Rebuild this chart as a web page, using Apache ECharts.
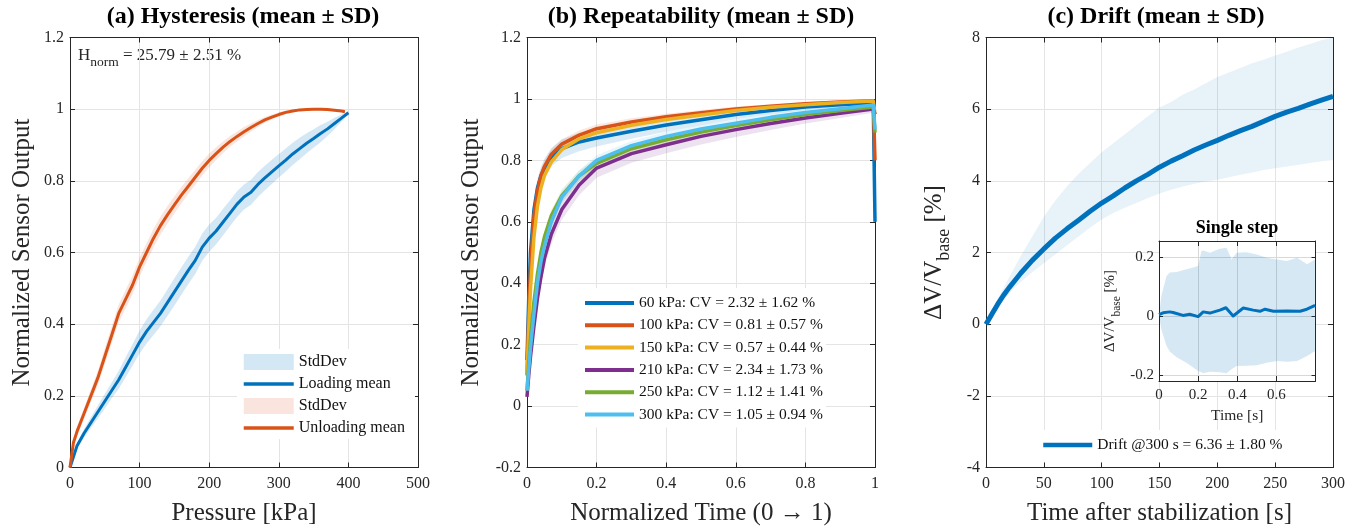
<!DOCTYPE html>
<html><head><meta charset="utf-8">
<script src="https://cdn.jsdelivr.net/npm/echarts@6/dist/echarts.min.js"></script>
<style>html,body{margin:0;padding:0;background:#fff}#c{width:1368px;height:531px}</style>
</head><body><div id="c"></div>
<script>
// ---------------- Panel (a): hysteresis ----------------
const loadP = [0,5,10,20,30,40,50,60,70,80,90,100,110,120,130,140,150,160,170,180,190,200,210,220,230,240,250,260,270,280,290,300,310,320,330,340,350,360,370,380,390,400];
const loadMean = [0,0.03,0.06,0.095,0.125,0.155,0.185,0.215,0.245,0.28,0.315,0.35,0.38,0.405,0.43,0.46,0.49,0.52,0.55,0.578,0.615,0.64,0.66,0.685,0.71,0.735,0.755,0.768,0.79,0.808,0.825,0.842,0.858,0.875,0.89,0.905,0.918,0.932,0.945,0.96,0.975,0.99];
const loadSD = [0,0.005,0.008,0.012,0.015,0.018,0.02,0.022,0.025,0.028,0.03,0.032,0.034,0.035,0.036,0.037,0.038,0.038,0.038,0.038,0.038,0.038,0.037,0.037,0.036,0.036,0.035,0.035,0.035,0.034,0.034,0.033,0.032,0.031,0.03,0.028,0.026,0.024,0.02,0.016,0.01,0.004];
const unloadP = [0,5,10,20,30,40,50,60,70,80,90,100,110,120,130,140,150,160,170,180,190,200,210,220,230,240,250,260,270,280,290,300,310,320,330,340,350,360,370,380,390,395];
const unloadMean = [0,0.07,0.1,0.15,0.2,0.25,0.31,0.37,0.43,0.47,0.51,0.56,0.6,0.64,0.675,0.705,0.733,0.76,0.785,0.81,0.835,0.857,0.876,0.894,0.91,0.924,0.937,0.949,0.96,0.97,0.978,0.985,0.991,0.995,0.998,0.999,1.0,1.0,0.999,0.997,0.995,0.993];
const unloadSD = [0,0.008,0.012,0.015,0.018,0.02,0.022,0.024,0.025,0.026,0.026,0.026,0.026,0.026,0.025,0.025,0.024,0.023,0.022,0.021,0.02,0.019,0.018,0.016,0.015,0.014,0.013,0.011,0.01,0.008,0.007,0.006,0.005,0.004,0.003,0.002,0.001,0,0,0,0,0];
const hystText = ' = 25.79 ± 2.51 %';

// ---------------- Panel (b): repeatability ----------------
const normT = [0,0.005,0.01,0.02,0.03,0.04,0.05,0.07,0.1,0.15,0.2,0.3,0.4,0.5,0.6,0.7,0.8,0.9,0.995,1];
const kPa60  = [0.15,0.35,0.5,0.64,0.71,0.75,0.775,0.81,0.838,0.86,0.873,0.895,0.915,0.932,0.949,0.962,0.974,0.981,0.987,0.6];
const kPa100 = [0.1,0.3,0.45,0.62,0.7,0.75,0.78,0.82,0.853,0.882,0.903,0.925,0.942,0.955,0.967,0.976,0.984,0.99,0.994,0.8];
const kPa150 = [0.1,0.25,0.38,0.55,0.65,0.71,0.75,0.795,0.835,0.87,0.89,0.914,0.933,0.948,0.962,0.973,0.981,0.988,0.993,0.95];
const kPa210 = [0.03,0.1,0.16,0.26,0.35,0.42,0.48,0.56,0.64,0.72,0.775,0.822,0.851,0.878,0.9,0.92,0.938,0.953,0.967,0.95];
const kPa250 = [0.05,0.14,0.22,0.34,0.43,0.5,0.55,0.62,0.685,0.75,0.79,0.838,0.867,0.892,0.913,0.932,0.949,0.962,0.974,0.89];
const kPa300 = [0.05,0.12,0.19,0.3,0.4,0.47,0.52,0.6,0.68,0.75,0.8,0.848,0.878,0.902,0.921,0.94,0.956,0.968,0.98,0.9];
const sd60  = [0,0.02,0.03,0.03,0.03,0.03,0.03,0.03,0.03,0.03,0.028,0.025,0.022,0.018,0.015,0.012,0.01,0.008,0.006,0];
const sd100 = [0,0.02,0.025,0.025,0.022,0.02,0.02,0.018,0.016,0.015,0.014,0.012,0.01,0.009,0.008,0.007,0.006,0.005,0.004,0];
const sd150 = [0,0.015,0.02,0.018,0.015,0.012,0.011,0.01,0.01,0.01,0.009,0.008,0.007,0.006,0.006,0.005,0.005,0.004,0.004,0];
const sd210 = [0,0.01,0.015,0.02,0.025,0.028,0.03,0.032,0.033,0.033,0.032,0.03,0.028,0.026,0.024,0.021,0.018,0.015,0.012,0];
const sd250 = [0,0.01,0.015,0.018,0.02,0.02,0.02,0.02,0.02,0.018,0.017,0.015,0.014,0.013,0.012,0.011,0.01,0.009,0.008,0];
const sd300 = [0,0.01,0.015,0.018,0.02,0.02,0.02,0.02,0.02,0.018,0.017,0.015,0.014,0.013,0.012,0.011,0.01,0.009,0.008,0];
const repNames = ['60 kPa: CV = 2.32 ± 1.62 %','100 kPa: CV = 0.81 ± 0.57 %','150 kPa: CV = 0.57 ± 0.44 %','210 kPa: CV = 2.34 ± 1.73 %','250 kPa: CV = 1.12 ± 1.41 %','300 kPa: CV = 1.05 ± 0.94 %'];

// ---------------- Panel (c): drift ----------------
const driftT = [0,5,10,15,20,25,30,40,50,60,70,80,90,100,110,120,130,140,150,160,170,180,190,200,210,220,230,240,250,260,270,280,290,300];
const driftMean = [0,0.28,0.55,0.8,1.02,1.22,1.42,1.78,2.1,2.4,2.66,2.9,3.15,3.38,3.58,3.8,4.0,4.18,4.38,4.55,4.7,4.86,5.0,5.13,5.27,5.4,5.52,5.66,5.8,5.92,6.02,6.14,6.25,6.36];
const driftUpper = [0,0.35,0.7,1.0,1.3,1.6,1.9,2.45,3.0,3.45,3.85,4.2,4.5,4.8,5.05,5.3,5.55,5.8,6.05,6.2,6.4,6.55,6.72,6.9,7.02,7.15,7.28,7.38,7.5,7.6,7.72,7.82,7.92,8.0];
const driftLower = [0,0.2,0.42,0.65,0.85,1.02,1.18,1.45,1.7,1.95,2.2,2.45,2.7,2.92,3.1,3.25,3.38,3.52,3.65,3.75,3.84,3.92,3.98,4.03,4.1,4.17,4.23,4.3,4.35,4.4,4.45,4.5,4.55,4.58];
const driftName = 'Drift @300 s = 6.36 ± 1.80 %';

// inset: single step
const stepBandT = [0,0.012,0.038,0.055,0.09,0.14,0.166,0.2,0.217,0.226,0.26,0.311,0.345,0.371,0.397,0.448,0.5,0.551,0.603,0.654,0.706,0.757,0.8];
const stepUpper = [0,0.068,0.135,0.147,0.149,0.158,0.163,0.169,0.22,0.222,0.214,0.228,0.231,0.191,0.214,0.216,0.208,0.197,0.191,0.186,0.197,0.175,0.192];
const stepLower = [0,-0.045,-0.101,-0.12,-0.14,-0.158,-0.17,-0.186,-0.19,-0.194,-0.189,-0.19,-0.194,-0.18,-0.169,-0.168,-0.167,-0.158,-0.152,-0.155,-0.152,-0.135,-0.118];
const stepT = [0,0.021,0.055,0.072,0.123,0.157,0.2,0.226,0.26,0.311,0.342,0.379,0.431,0.482,0.516,0.542,0.585,0.653,0.721,0.756,0.798];
const stepMean = [0.005,0.011,0.014,0.012,0.002,0.006,-0.002,0.014,0.01,0.02,0.028,0.0,0.027,0.02,0.016,0.023,0.016,0.017,0.016,0.023,0.036];
const insetYTicks = [-0.2, 0, 0.2];

// ---------------- styling ----------------
const FF = 'Liberation Serif';
const INK = '#262626';
const GRIDC = '#e4e4e4';
const C = ['#0072BD','#D95319','#EDB120','#7E2F8E','#77AC30','#4DBEEE'];
const rgba = (hex, a) => { const n = parseInt(hex.slice(1), 16); return `rgba(${n>>16},${(n>>8)&255},${n&255},${a})`; };

function bandSeries(name, xs, lo, hi, color, gi, z) {
  return {
    type: 'custom', name, xAxisIndex: 2 * gi, yAxisIndex: 2 * gi, z, silent: true, clip: true,
    itemStyle: {color},
    data: xs.map((x, i) => [x, lo[i], hi[i]]),
    encode: {x: 0, y: [1, 2]},
    renderItem(params, api) {
      if (params.dataIndex !== 0) return null;
      const pts = [];
      for (let i = 0; i < xs.length; i++) pts.push(api.coord([xs[i], hi[i]]));
      for (let i = xs.length - 1; i >= 0; i--) pts.push(api.coord([xs[i], lo[i]]));
      return {type: 'polygon', shape: {points: pts}, style: {fill: color}};
    }
  };
}
function lineSeries(name, xs, ys, color, width, gi, z) {
  return {
    type: 'line', name, xAxisIndex: 2 * gi, yAxisIndex: 2 * gi, z, silent: true,
    data: xs.map((x, i) => [x, ys[i]]), symbol: 'none', showSymbol: false,
    lineStyle: {color, width, join: 'round'}, itemStyle: {color}
  };
}
const lab = (sz, margin) => ({show: true, fontFamily: FF, fontSize: sz, color: INK, margin});
function axisPair(gi, min, max, interval, mainPos, oppPos, label, name, nameGap, nameStyle, extra) {
  const base = {
    gridIndex: gi, type: 'value', min, max,
    axisLine: {show: true, onZero: false, lineStyle: {color: INK, width: 1}},
    axisTick: {show: true, inside: true, length: 5, lineStyle: {color: INK, width: 1}},
  };
  if (interval != null) base.interval = interval;
  const main = Object.assign({}, base, {
    position: mainPos, axisLabel: label,
    splitLine: {show: true, lineStyle: {color: GRIDC, width: 1}},
    name, nameLocation: 'middle', nameGap, nameTextStyle: nameStyle
  }, extra || {});
  const opp = Object.assign({}, base, {position: oppPos, axisLabel: {show: false}, splitLine: {show: false}});
  if (extra && extra.z != null) opp.z = extra.z;
  if (extra && extra.axisTick) opp.axisTick = extra.axisTick;
  return [main, opp];
}
const nameStyle = {fontFamily: FF, fontSize: 25, color: INK};

const xAxes = [
  ...axisPair(0, 0, 500, 100, 'bottom', 'top', lab(16, 8), 'Pressure [kPa]', 33, nameStyle),
  ...axisPair(1, 0, 1, 0.2, 'bottom', 'top', lab(16, 8), 'Normalized Time (0 → 1)', 33, nameStyle),
  ...axisPair(2, 0, 300, 50, 'bottom', 'top', lab(16, 8), 'Time after stabilization [s]', 33, nameStyle),
  ...axisPair(3, 0, 0.8, 0.2, 'bottom', 'top',
      Object.assign(lab(15, 7), {formatter: v => v > 0.7 ? '' : String(+v.toFixed(1))}),
      'Time [s]', 27, {fontFamily: FF, fontSize: 15.5, color: INK}, {z: 4})
];
const yAxes = [
  ...axisPair(0, 0, 1.2, 0.2, 'left', 'right', lab(16, 6), 'Normalized Sensor Output', 35, nameStyle),
  ...axisPair(1, -0.2, 1.2, 0.2, 'left', 'right', lab(16, 6), 'Normalized Sensor Output', 43, nameStyle),
  ...axisPair(2, -4, 8, 2, 'left', 'right', lab(16, 6), '{m|ΔV/V}{s|base}{m| [%]}', 33,
      {fontFamily: FF, fontSize: 25, color: INK,
       rich: {m: {fontFamily: FF, fontSize: 25, color: INK, lineHeight: 38},
              s: {fontFamily: FF, fontSize: 18, color: INK, lineHeight: 18, verticalAlign: 'bottom'}}}),
  ...axisPair(3, -0.22, 0.254, null, 'left', 'right',
      Object.assign(lab(15, 5), {customValues: insetYTicks}),
      '{m|ΔV/V}{s|base}{m| [%]}', 36,
      {fontFamily: FF, fontSize: 15, color: INK,
       rich: {m: {fontFamily: FF, fontSize: 15, color: INK, lineHeight: 26},
              s: {fontFamily: FF, fontSize: 11.5, color: INK, lineHeight: 11, verticalAlign: 'bottom'}}},
      {z: 4, axisTick: {show: true, inside: true, length: 4, customValues: insetYTicks, lineStyle: {color: INK, width: 1}}})
];
xAxes[6].splitLine.lineStyle.color = '#d8d8d8';
yAxes[6].splitLine.lineStyle.color = '#d8d8d8';

const series = [];
// (a)
series.push(bandSeries('StdDev', loadP, loadP.map((p,i)=>loadMean[i]-loadSD[i]), loadP.map((p,i)=>loadMean[i]+loadSD[i]), rgba(C[0],0.17), 0, 2));
series.push(lineSeries('Loading mean', loadP, loadMean, C[0], 3, 0, 2));
series.push(bandSeries('StdDev ', unloadP, unloadP.map((p,i)=>unloadMean[i]-unloadSD[i]), unloadP.map((p,i)=>unloadMean[i]+unloadSD[i]), rgba(C[1],0.15), 0, 2));
series.push(lineSeries('Unloading mean', unloadP, unloadMean, C[1], 3, 0, 2));
// (b)
const repMeans = [kPa60, kPa100, kPa150, kPa210, kPa250, kPa300];
const repSDs = [sd60, sd100, sd150, sd210, sd250, sd300];
repMeans.forEach((m, k) => {
  const n = normT.length - 1;
  const ts = normT.slice(0, n);
  series.push(bandSeries('band' + k, ts, ts.map((t,i)=>m[i]-repSDs[k][i]), ts.map((t,i)=>m[i]+repSDs[k][i]), rgba(C[k],0.14), 1, 2));
  series.push(lineSeries(repNames[k], normT, m, C[k], 3.5, 1, 2));
});
// (c)
series.push(bandSeries('driftBand', driftT, driftLower, driftUpper, rgba(C[0],0.09), 2, 2));
series.push(lineSeries(driftName, driftT, driftMean, C[0], 5, 2, 2));
// inset
series.push(bandSeries('stepBand', stepBandT, stepLower, stepUpper, rgba(C[0],0.16), 3, 5));
series.push(lineSeries('stepMean', stepT, stepMean, C[0], 3, 3, 6));

const legText = (sz) => ({fontFamily: FF, fontSize: sz, color: '#111', lineHeight: 16});
const hideSym = {opacity: 0, borderWidth: 0};
const option = {
  animation: false,
  backgroundColor: '#fff',
  grid: [
    {left: 70, top: 37.5, width: 348, height: 430},
    {left: 527, top: 37.5, width: 348, height: 430},
    {left: 986, top: 37.5, width: 347, height: 430},
    {left: 1159, top: 241, width: 156.5, height: 140, show: true, backgroundColor: '#fff', borderWidth: 0, z: 3}
  ],
  xAxis: xAxes,
  yAxis: yAxes,
  legend: [
    {orient: 'vertical', left: 237, top: 349, padding: [5, 10, 3, 5], backgroundColor: '#fff',
     itemWidth: 50, itemHeight: 16, itemGap: 6, selectedMode: false, textStyle: legText(16), itemStyle: hideSym,
     lineStyle: {width: 3.5},
     data: [{name: 'StdDev', icon: 'rect', itemStyle: {color: rgba(C[0],0.17), opacity: 1}}, {name: 'Loading mean'},
            {name: 'StdDev ', icon: 'rect', itemStyle: {color: rgba(C[1],0.15), opacity: 1}}, {name: 'Unloading mean'}]},
    {orient: 'vertical', left: 578, top: 288, padding: [7, 3, 5, 5], backgroundColor: '#fff',
     itemWidth: 49, itemHeight: 16, itemGap: 6.3, selectedMode: false, textStyle: legText(15.5), itemStyle: hideSym,
     lineStyle: {width: 4},
     data: repNames},
    {orient: 'vertical', left: 1036, top: 430, padding: [7, 6, 9, 5], backgroundColor: '#fff',
     itemWidth: 49, itemHeight: 16, itemGap: 6, selectedMode: false, textStyle: legText(15.5), itemStyle: hideSym,
     lineStyle: {width: 4.5},
     data: [driftName]}
  ],
  graphic: [
    {type: 'text', x: 243, y: 17, style: {text: '(a) Hysteresis (mean ± SD)', fontFamily: FF, fontWeight: 'bold', fontSize: 24, fill: '#000', align: 'center', verticalAlign: 'middle'}},
    {type: 'text', x: 701, y: 17, style: {text: '(b) Repeatability (mean ± SD)', fontFamily: FF, fontWeight: 'bold', fontSize: 24, fill: '#000', align: 'center', verticalAlign: 'middle'}},
    {type: 'text', x: 1156, y: 17, style: {text: '(c) Drift (mean ± SD)', fontFamily: FF, fontWeight: 'bold', fontSize: 24, fill: '#000', align: 'center', verticalAlign: 'middle'}},
    {type: 'text', x: 1237, y: 228, z: 10, style: {text: 'Single step', fontFamily: FF, fontWeight: 'bold', fontSize: 18, fill: '#000', align: 'center', verticalAlign: 'middle'}},
    {type: 'text', x: 78, y: 43, style: {text: '{h|H}{s|norm}{h|' + hystText + '}', align: 'left', verticalAlign: 'top',
      rich: {h: {fontFamily: FF, fontSize: 17, lineHeight: 26, fill: INK, color: INK},
             s: {fontFamily: FF, fontSize: 13.5, lineHeight: 13, fill: INK, color: INK, verticalAlign: 'bottom'}}}}
  ],
  series
};
const chart = echarts.init(document.getElementById('c'), null, {renderer: 'canvas'});
chart.setOption(option);
</script></body></html>
